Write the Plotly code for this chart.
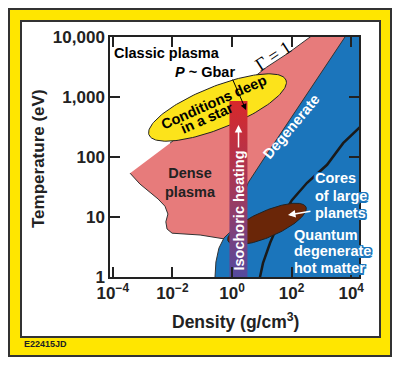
import numpy as np
import plotly.graph_objects as go

FONT = "Liberation Sans, Arial, Helvetica, sans-serif"
SERIF = "Liberation Serif, Times New Roman, serif"

# ---------------- data (log10 density [g/cm3], log10 temperature [eV]) ----------------
dense_plasma_log_rho = [-3.42, -3.09, -2.48, -2.25, -2.15, -2.22, -2.18, -2.01, -1.07, -0.20,
                        0.94, 4.20, 3.17, 1.88, 1.17, -1.07, -2.08]
dense_plasma_log_T = [1.73, 1.55, 1.30, 1.18, 1.05, 0.92, 0.80, 0.73, 0.70, 0.63,
                      1.28, 4.20, 4.20, 3.73, 3.50, 2.62, 2.23]

degenerate_log_rho = [4.06, 3.79, 2.28, 1.04, 0.54, 0.27, 0.00, -0.27, -0.44, -0.54, -0.57,
                      -0.60, 4.60, 4.60]
degenerate_log_T = [4.20, 4.00, 2.87, 1.95, 1.57, 1.20, 0.78, 0.65, 0.48, 0.25, 0.00,
                    -0.20, -0.20, 4.20]

fermi_line_log_rho = [4.40, 3.73, 3.19, 2.52, 2.01, 1.61, 1.28, 1.04, 0.94, 0.90]
fermi_line_log_T = [2.55, 2.23, 1.87, 1.57, 1.28, 0.95, 0.57, 0.23, 0.00, -0.10]

star_tips_log_rho = [-2.785, 1.812]      # "Conditions deep in a star" ellipse (major-axis ends)
star_tips_log_T = [2.367, 3.283]
planet_tips_log_rho = [-0.134, 2.483]    # "Cores of large planets" ellipse
planet_tips_log_T = [0.600, 1.167]

isochoric_rho = [0.82, 3.3]
isochoric_T = [1.0, 860.0]

x_tickvals = [1e-4, 1e-2, 1, 1e2, 1e4]
x_ticktext = ["10<sup>\u22124</sup>", "10<sup>\u22122</sup>", "10<sup>0</sup>", "10<sup>2</sup>", "10<sup>4</sup>"]
y_tickvals = [1, 10, 100, 1000, 10000]
y_ticktext = ["1", "10", "100", "1,000", "10,000"]

# ---------------- layout geometry (reference pixels; page body adds an 8px offset) ----------------
OFF = 8
W, H = 400 - 2 * OFF, 365 - 2 * OFF
L, R, T, B = 110, 359, 37, 277          # plot area in reference pixels
XR = [-4.094, 4.262]
YR = [0, 4]
PXX = (R - L) / (XR[1] - XR[0])
PXY = (B - T) / (YR[1] - YR[0])


def P(px, py):
    return (px - L) / (R - L), (B - py) / (B - T)


def ellipse(tx, ty, half_w, n=160):
    X = np.array(tx) * PXX
    Y = np.array(ty) * PXY
    cx, cy = X.mean(), Y.mean()
    a = np.hypot(X[1] - X[0], Y[1] - Y[0]) / 2
    ang = np.arctan2(Y[1] - Y[0], X[1] - X[0])
    t = np.linspace(0, 2 * np.pi, n)
    ex, ey = a * np.cos(t), half_w * np.sin(t)
    xs = cx + ex * np.cos(ang) - ey * np.sin(ang)
    ys = cy + ex * np.sin(ang) + ey * np.cos(ang)
    return 10 ** (xs / PXX), 10 ** (ys / PXY)


PINK = "#E77B7B"
BLUE = "#1B75BB"
BROWN = "#6A2608"
YEL = "#FFE600"
DARK = "#222222"

fig = go.Figure()
lg = lambda v: 10 ** np.array(v, dtype=float)

fig.add_trace(go.Scatter(x=lg(dense_plasma_log_rho), y=lg(dense_plasma_log_T), fill="toself",
                         fillcolor=PINK, mode="lines", line=dict(color="#333", width=1), hoverinfo="skip"))
fig.add_trace(go.Scatter(x=lg(degenerate_log_rho), y=lg(degenerate_log_T), fill="toself",
                         fillcolor=BLUE, mode="lines", line=dict(color="#333", width=1), hoverinfo="skip"))
fig.add_trace(go.Scatter(x=lg(fermi_line_log_rho), y=lg(fermi_line_log_T), mode="lines",
                         line=dict(color="#1a1a1a", width=2.5), hoverinfo="skip"))
ex, ey = ellipse(planet_tips_log_rho, planet_tips_log_T, 13)
fig.add_trace(go.Scatter(x=ex, y=ey, fill="toself", fillcolor=BROWN, mode="lines",
                         line=dict(color="#222", width=1), hoverinfo="skip"))
ex, ey = ellipse(star_tips_log_rho, star_tips_log_T, 21)
fig.add_trace(go.Scatter(x=ex, y=ey, fill="toself", fillcolor="#FCE31B", mode="lines",
                         line=dict(color="#222", width=1), hoverinfo="skip"))
bx = [isochoric_rho[0], isochoric_rho[1], isochoric_rho[1], isochoric_rho[0], isochoric_rho[0]]
by = [isochoric_T[0], isochoric_T[0], isochoric_T[1], isochoric_T[1], isochoric_T[0]]
fig.add_trace(go.Scatter(x=bx, y=by, fill="toself", mode="lines", line=dict(width=0),
                         fillgradient=dict(type="vertical",
                                           colorscale=[[0, "#554A9E"], [0.45, "#9C3A60"], [1, "#D8282A"]]),
                         hoverinfo="skip"))

ann = []


def text(s, px, py, size=14.5, color="black", angle=0, weight="bold", xanchor="center", shadow=None,
         family=FONT):
    x, y = P(px, py)
    f = dict(family=family, size=size, color=color, weight=weight)
    if shadow:
        f["shadow"] = shadow
    ann.append(dict(text=s, x=x, y=y, xref="paper", yref="paper", showarrow=False, textangle=angle,
                    xanchor=xanchor, yanchor="middle", font=f))


def arrow(hx, hy, tx, ty, color, width=1.2, head=2, size=1):
    x, y = P(hx, hy)
    ann.append(dict(text="", x=x, y=y, xref="paper", yref="paper", showarrow=True, ax=tx - hx, ay=ty - hy,
                    arrowcolor=color, arrowwidth=width, arrowhead=head, arrowsize=size))


halo = ", ".join(f"{dx}px {dy}px 0 {BLUE}" for dx in (-1.5, 0, 1.5) for dy in (-1.5, 0, 1.5))

text("Classic plasma", 167, 53)
text("<i>P</i> ~ Gbar", 205, 72)
arrow(246, 110, 232, 78, "black", width=1, head=2, size=1.2)
text("\u0393 = 1", 273, 56, size=18, angle=-33, weight="normal", family=SERIF)
text("Conditions deep", 214, 102, angle=-24)
text("in a star", 207, 118, angle=-24)
text("Dense<br>plasma", 190, 182, color=DARK)
text("Degenerate", 291, 127, color="white", angle=-50)
text("Isochoric heating", 238.5, 211, color="white", angle=-90)
arrow(238.5, 125, 238.5, 149, "white", width=1.5, head=2, size=1)
text("Cores", 313, 178, color="white", xanchor="left", shadow=halo)
text("of large", 313, 196, color="white", xanchor="left", shadow=halo)
text("planets", 313, 213, color="white", xanchor="left", shadow=halo)
arrow(288, 215, 312, 211, "white", width=1.5, head=2, size=1)
text("Quantum", 292, 235, color="white", xanchor="left", shadow=halo)
text("degenerate", 292, 251, color="white", xanchor="left", shadow=halo)
text("hot matter", 292, 268, color="white", xanchor="left", shadow=halo)
text("E22415JD", 22, 344, size=9, xanchor="left", color=DARK)
text("Temperature (eV)", 38, 159, size=17, angle=-90, color=DARK)
text("Density (g/cm<sup>3</sup>)", 235, 321, size=17.5, color=DARK)

o0 = P(9, 356); o1 = P(391, 9)
i0 = P(21, 337); i1 = P(380, 21)
shapes = [
    dict(type="rect", xref="paper", yref="paper", x0=o0[0], y0=o0[1], x1=o1[0], y1=o1[1],
         fillcolor=YEL, line=dict(color="#333", width=2), layer="below"),
    dict(type="rect", xref="paper", yref="paper", x0=i0[0], y0=i0[1], x1=i1[0], y1=i1[1],
         fillcolor="white", line=dict(color="#333", width=2), layer="below"),
]

axis_common = dict(ticks="inside", ticklen=10, tickwidth=1.5, tickcolor=DARK, showline=True, linecolor=DARK,
                   linewidth=1.5, mirror="ticks", showgrid=False, zeroline=False,
                   tickfont=dict(family=FONT, size=17, color=DARK, weight="bold"))

fig.update_layout(
    width=W, height=H,
    margin=dict(l=L - OFF, r=W - (R - OFF), t=T - OFF, b=H - (B - OFF), pad=0),
    paper_bgcolor="white", plot_bgcolor="white", showlegend=False,
    xaxis=dict(type="log", range=XR, tickvals=x_tickvals, ticktext=x_ticktext, **axis_common),
    yaxis=dict(type="log", range=YR, tickvals=y_tickvals, ticktext=y_ticktext, **axis_common),
    annotations=ann, shapes=shapes,
)

fig.write_html("out.html")
